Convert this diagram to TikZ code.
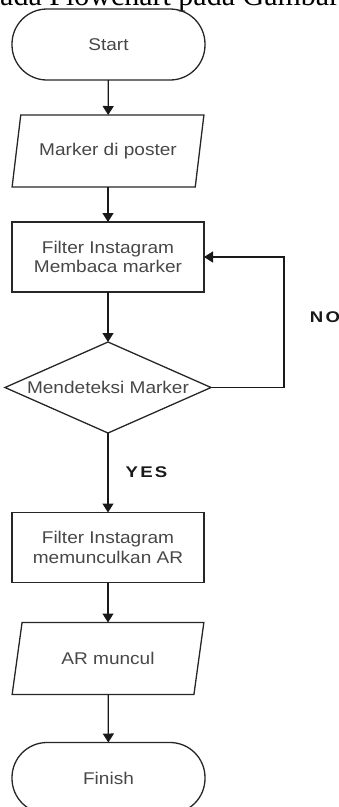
\documentclass[tikz,border=0pt]{standalone}
\usepackage{fontspec}
\setmainfont{Liberation Serif}
\setsansfont{Liberation Sans}
\usetikzlibrary{shapes.geometric,arrows.meta}
\newcommand{\wide}[1]{\scalebox{1.12}[1]{#1}}
\newcommand{\lwide}[1]{\scalebox{1.2}[1]{#1}}
\newcommand{\spc}{\kern1.8pt}
\begin{document}
\begin{tikzpicture}[x=1pt,y=-1pt,
  base/.style={draw=black!85, line width=1.3pt, font=\sffamily\fontsize{17}{19.5}\selectfont, text=black!72, align=center, inner sep=0pt, outer sep=0pt},
  term/.style={base, rectangle, rounded corners=35pt, minimum width=193pt, minimum height=71pt},
  io/.style={base, trapezium, trapezium left angle=66.7, trapezium right angle=113.3, trapezium stretches=true, minimum width=192pt, minimum height=72pt},
  proc/.style={base, rectangle, minimum width=192pt, minimum height=70pt},
  dec/.style={base, diamond, aspect=2.26, minimum width=206pt, minimum height=91pt},
  flow/.style={line width=1.3pt, draw=black!90, -{Triangle[width=11pt,length=9pt]}},
  lbl/.style={font=\sffamily\bfseries\fontsize{15.5}{18}\selectfont, text=black!90, inner sep=0pt}
]
\useasboundingbox (0,0) rectangle (339,807);
\clip (0,0) rectangle (339,807);
\node[anchor=base west, inner sep=0pt, font=\rmfamily\fontsize{30}{32}\selectfont] (cap) at (-15,5) {pada Flowchart pada Gambar};
\node[term] (start) at (108.5,44.5) {\wide{Start}};
\node[io] (p1) at (108,151) {\wide{Marker di poster}};
\node[proc] (r1) at (108,257) {\wide{Filter Instagram}\\\wide{Membaca marker}};
\node[dec] (d) at (108,387.5) {\wide{Mendeteksi Marker}};
\node[proc] (r2) at (108,547.5) {\wide{Filter Instagram}\\\wide{memunculkan AR}};
\node[io] (p2) at (108,658.5) {\wide{AR muncul}};
\node[term] (fin) at (108.5,778) {\wide{Finish}};
\node[lbl] (yes) at (146.5,472) {\lwide{Y\spc E\spc S}};
\node[lbl] (no) at (325,317) {\lwide{N\spc O}};
\draw[flow] (start) -- (p1);
\draw[flow] (p1) -- (r1);
\draw[flow] (r1) -- (d);
\draw[flow] (d) -- (r2);
\draw[flow] (r2) -- (p2);
\draw[flow] (p2) -- (fin);
\draw[flow] (d.east) -- ++(73,0) |- (r1.east);
\end{tikzpicture}
\end{document}
